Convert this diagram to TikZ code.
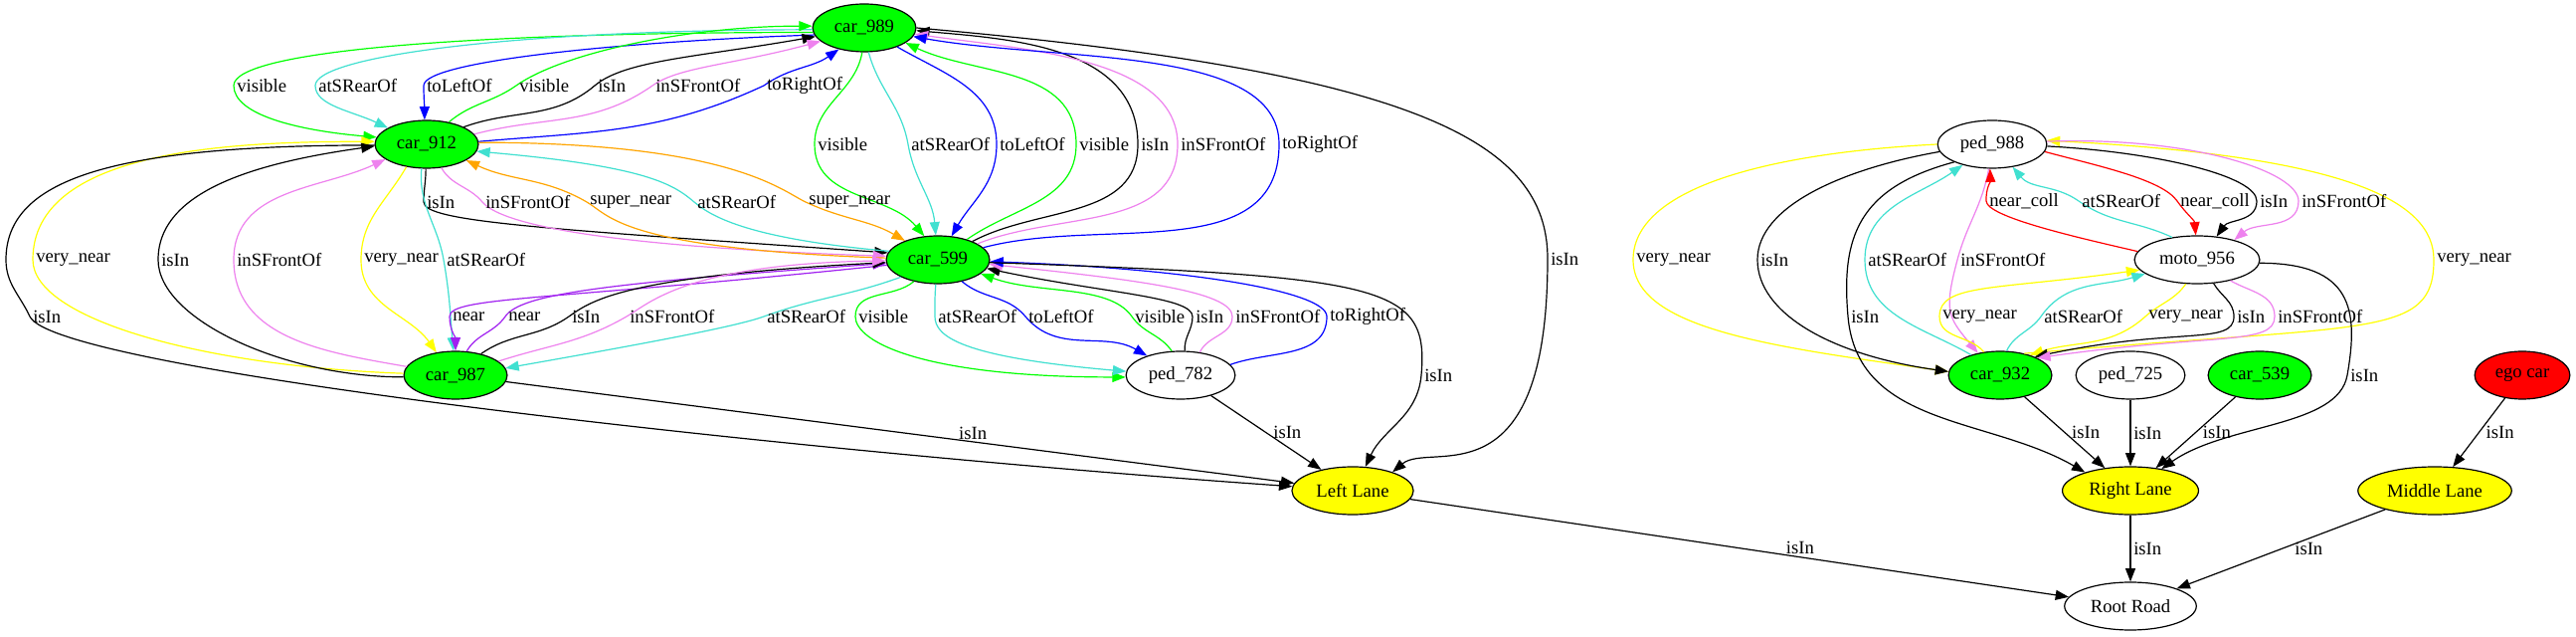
\documentclass[tikz,border=0pt]{standalone}
\usepackage{fontspec}
\setmainfont{Liberation Serif}
\usetikzlibrary{shapes.geometric, arrows.meta}
\definecolor{gvGreen}{RGB}{0, 255, 0}
\definecolor{gvTurq}{RGB}{64, 224, 208}
\definecolor{gvBlue}{RGB}{0, 0, 255}
\definecolor{gvViolet}{RGB}{238, 130, 238}
\definecolor{gvOrange}{RGB}{255, 165, 0}
\definecolor{gvYellow}{RGB}{255, 255, 0}
\definecolor{gvPurple}{RGB}{160, 32, 240}
\definecolor{gvRed}{RGB}{255, 0, 0}

\begin{document}
\begin{tikzpicture}[x=0.75pt, y=0.75pt,
    obj/.style={ellipse, draw, line width=0.9pt, inner xsep=5pt, inner ysep=1pt,
      minimum height=36pt, font=\fontsize{14}{16}\selectfont},
    carnode/.style={obj, fill=gvGreen},
    lanenode/.style={obj, fill=gvYellow},
    egonode/.style={obj, fill=gvRed},
    rel/.style={line width=0.9pt, -{Triangle[length=10pt, width=7.5pt]}},
    rvis/.style={rel, color=gvGreen},
    rrear/.style={rel, color=gvTurq},
    rside/.style={rel, color=gvBlue},
    rfront/.style={rel, color=gvViolet},
    risin/.style={rel, color=black},
    rsnear/.style={rel, color=gvOrange},
    rvnear/.style={rel, color=gvYellow},
    rnear/.style={rel, color=gvPurple},
    rcoll/.style={rel, color=gvRed},
    lbl/.style={anchor=west, inner sep=2pt, text=black, font=\fontsize{14}{16}\selectfont}]
  \path[use as bounding box, fill=white] (0,0) rectangle (2590,639);

  % left scene
  \node[carnode] (c989) at (869,611) {car\_989};
  \node[carnode] (c912) at (429,494) {car\_912};
  \node[carnode] (c599) at (943,378) {car\_599};
  \node[carnode] (c987) at (458,262) {car\_987};
  \node[obj] (p782) at (1187,262) {ped\_782};
  \node[lanenode] (ll) at (1360,146) {Left Lane};
  % right scene
  \node[obj] (p988) at (2003,494) {ped\_988};
  \node[obj] (m956) at (2209,378) {moto\_956};
  \node[carnode] (c932) at (2011,262) {car\_932};
  \node[obj] (p725) at (2142,262) {ped\_725};
  \node[carnode] (c539) at (2272,262) {car\_539};
  \node[egonode] (ego) at (2536,262) {ego car};
  \node[lanenode] (rl) at (2142,146) {Right Lane};
  \node[lanenode] (ml) at (2448,146) {Middle Lane};
  \node[obj] (rr) at (2142,30) {Root Road};

  % car_989 -> car_912 (loops over the top)
  \draw[rvis] (c989.185) to[out=180,in=90,out distance=262pt,in distance=26pt] (235,553) node[lbl]{visible}
    to[out=-90,in=175,out distance=22pt,in distance=60pt] (c912.172);
  \draw[rrear] (c989.182) to[out=180,in=90,out distance=225pt,in distance=22pt] (317,553) node[lbl]{atSRearOf}
    to[out=-90,in=155,out distance=15pt,in distance=30pt] (c912.157);
  \draw[rside] (c989.188) to[out=182,in=90,out distance=150pt,in distance=18pt] (426,553) node[lbl]{toLeftOf}
    to[out=-90,in=90] (c912.95);
  % car_912 -> car_989
  \draw[rvis] (c912.45) to[out=40,in=215] (519,553) node[lbl]{visible}
    to[out=35,in=180,out distance=45pt,in distance=90pt] (c989.178);
  \draw[risin] (c912.25) to[out=20,in=220] (598,553) node[lbl]{isIn}
    to[out=40,in=190,out distance=30pt,in distance=90pt] (c989.190);
  \draw[rfront] (c912.12) to[out=15,in=215] (656,553) node[lbl]{inSFrontOf}
    to[out=35,in=195,out distance=25pt,in distance=70pt] (c989.197);
  \draw[rside] (c912.3) to[out=5,in=205] (768,553) node[lbl]{toRightOf}
    to[out=35,in=215] (c989.220);

  % car_989 <-> car_599
  \draw[rvis] (c989.265) to[out=-100,in=90] (819,494) node[lbl]{visible} to[out=-90,in=130] (c599.120);
  \draw[rrear] (c989.280) to[out=-75,in=100] (913,494) node[lbl]{atSRearOf} to[out=-80,in=95] (c599.95);
  \draw[rside] (c989.-30) to[out=-30,in=90] (1002,494) node[lbl]{toLeftOf} to[out=-90,in=60] (c599.60);
  \draw[rvis] (c599.35) to[out=35,in=-90] (1082,494) node[lbl]{visible} to[out=90,in=-25] (c989.-20);
  \draw[risin] (c599.28) to[out=28,in=-90] (1144,494) node[lbl]{isIn} to[out=90,in=-5] (c989.-3);
  \draw[rfront] (c599.22) to[out=22,in=-90] (1184,494) node[lbl]{inSFrontOf}
    to[out=90,in=-8,out distance=65pt] (c989.-7);
  \draw[rside] (c599.15) to[out=15,in=-90] (1286,494) node[lbl]{toRightOf}
    to[out=90,in=-10,out distance=75pt] (c989.-10);
  \draw[risin] (c989.0) to[out=-5,in=90,out distance=375pt,in distance=90pt] (1556,379) node[lbl]{isIn}
    to[out=-90,in=40,out distance=187pt,in distance=37pt] (ll.25);

  % car_912 <-> car_599
  \draw[risin] (c912.268) to[out=-90,in=90] (426,436) node[lbl]{isIn}
    to[out=-90,in=176,out distance=15pt,in distance=260pt] (c599.172);
  \draw[rfront] (c912.-58) to[out=-60,in=130] (485,436) node[lbl]{inSFrontOf}
    to[out=-50,in=178,out distance=20pt,in distance=225pt] (c599.176);
  \draw[rsnear] (c599.178) to[out=178,in=-30,out distance=200pt,in distance=20pt] (590,436) node[lbl]{super\_near}
    to[out=150,in=-25] (c912.-22);
  \draw[rrear] (c599.170) to[out=175,in=-40,out distance=110pt,in distance=15pt] (698,436) node[lbl]{atSRearOf}
    to[out=140,in=-5,out distance=20pt,in distance=130pt] (c912.-8);
  \draw[rsnear] (c912.2) to[out=0,in=155,out distance=190pt,in distance=20pt] (810,436) node[lbl]{super\_near}
    to[out=-25,in=150] (c599.150);

  % car_912 <-> car_987, isIn round the left
  \draw[rvnear] (c987.178) to[out=178,in=-90,out distance=150pt,in distance=45pt] (33,378) node[lbl]{very\_near}
    to[out=90,in=180,out distance=82pt,in distance=112pt] (c912.177);
  \draw[risin] (c912.181) to[out=180,in=90,out distance=200pt,in distance=60pt] (6,378)
    to[out=-90,in=115] (30,321) node[lbl]{isIn}
    to[out=-65,in=176,out distance=45pt,in distance=375pt] (ll.176);
  \draw[risin] (c987.182) to[out=180,in=-90,out distance=90pt,in distance=45pt] (159,378) node[lbl]{isIn}
    to[out=90,in=188,out distance=52pt,in distance=90pt] (c912.182);
  \draw[rfront] (c987.170) to[out=170,in=-90] (235,378) node[lbl]{inSFrontOf} to[out=90,in=205] (c912.200);
  \draw[rvnear] (c912.228) to[out=-120,in=90] (363,378) node[lbl]{very\_near} to[out=-90,in=125] (c987.130);
  \draw[rrear] (c912.258) to[out=-95,in=100] (446,378) node[lbl]{atSRearOf} to[out=-80,in=95] (c987.95);

  % car_987 <-> car_599
  \draw[rnear] (c599.186) to[out=186,in=90,out distance=255pt,in distance=15pt] (452,321) node[lbl]{near}
    to[out=-90,in=90] (c987.90);
  \draw[rnear] (c987.65) to[out=60,in=235] (508,321) node[lbl]{near}
    to[out=55,in=184,out distance=20pt,in distance=220pt] (c599.184);
  \draw[risin] (c987.40) to[out=35,in=215] (572,321) node[lbl]{isIn}
    to[out=35,in=183,out distance=20pt,in distance=200pt] (c599.183);
  \draw[rfront] (c987.18) to[out=18,in=210] (630,321) node[lbl]{inSFrontOf}
    to[out=30,in=181,out distance=20pt,in distance=150pt] (c599.181);
  \draw[rrear] (c599.205) to[out=200,in=20] (768,321) node[lbl]{atSRearOf}
    to[out=200,in=10,out distance=20pt,in distance=120pt] (c987.8);

  % car_599 <-> ped_782
  \draw[rvis] (c599.222) to[out=220,in=90] (860,321) node[lbl]{visible}
    to[out=-90,in=180,out distance=20pt,in distance=150pt] (p782.182);
  \draw[rrear] (c599.265) to[out=-95,in=90] (940,321) node[lbl]{atSRearOf}
    to[out=-90,in=175,out distance=15pt,in distance=125pt] (p782.176);
  \draw[rside] (c599.-42) to[out=-40,in=130] (1031,321) node[lbl]{toLeftOf} to[out=-50,in=150] (p782.150);
  \draw[rvis] (p782.110) to[out=125,in=-55] (1138,321) node[lbl]{visible}
    to[out=125,in=-20,out distance=30pt] (c599.-18);
  \draw[risin] (p782.80) to[out=95,in=-90] (1199,321) node[lbl]{isIn}
    to[out=90,in=-12,out distance=15pt,in distance=90pt] (c599.-10);
  \draw[rfront] (p782.50) to[out=65,in=-90] (1239,321) node[lbl]{inSFrontOf}
    to[out=90,in=-6,out distance=19pt,in distance=110pt] (c599.-5);
  \draw[rside] (p782.12) to[out=20,in=-90] (1334,321) node[lbl]{toRightOf}
    to[out=90,in=-2,out distance=19pt,in distance=150pt] (c599.-2);
  \draw[risin] (c599.-3) to[out=-2,in=85,out distance=300pt,in distance=68pt] (1429,262) node[lbl]{isIn}
    to[out=-95,in=65] (ll.62);

  % into the lanes
  \draw[risin] (p782) -- node[lbl, xshift=3pt]{isIn} (ll);
  \draw[risin] (c987) -- node[lbl, pos=0.574, anchor=south west, inner sep=0pt]{isIn} (ll);
  \draw[risin] (ll) -- node[lbl, pos=0.57, anchor=south west, inner sep=0pt]{isIn} (rr);

  % ped_988 <-> car_932
  \draw[rvnear] (p988.180) to[out=183,in=90,out distance=135pt,in distance=52pt] (1642,378) node[lbl]{very\_near}
    to[out=-90,in=172,out distance=52pt,in distance=135pt] (c932.176);
  \draw[risin] (p988.188) to[out=190,in=90,out distance=75pt,in distance=40pt] (1767,378) node[lbl]{isIn}
    to[out=-90,in=172,out distance=40pt,in distance=90pt] (c932.176);
  \draw[risin] (p988.205) to[out=195,in=95,out distance=75pt,in distance=60pt] (1858,321) node[lbl]{isIn}
    to[out=-85,in=150] (rl.158);
  \draw[rrear] (c932.145) to[out=150,in=-90] (1875,378) node[lbl]{atSRearOf} to[out=90,in=215] (p988.215);
  \draw[rfront] (p988.262) to[out=-100,in=75] (1968,378) node[lbl]{inSFrontOf}
    to[out=-105,in=130,out distance=40pt,in distance=35pt] (c932.135);
  \draw[rvnear] (c932.42) to[out=5,in=-90,out distance=262pt,in distance=60pt] (2447,378) node[lbl]{very\_near}
    to[out=90,in=-3,out distance=45pt,in distance=225pt] (p988.4);

  % ped_988 <-> moto_956
  \draw[rcoll] (m956.172) to[out=167,in=-88,in distance=12pt] (1997,437) node[lbl]{near\_coll}
    to[out=92,in=-88] (p988.265);
  \draw[rrear] (m956.138) to[out=155,in=-35] (2090,437) node[lbl]{atSRearOf} to[out=145,in=-50] (p988.-48);
  \draw[rcoll] (p988.-8) to[out=-15,in=125,in distance=20pt] (2189,437) node[lbl]{near\_coll}
    to[out=-55,in=95] (m956.93);
  \draw[risin] (p988.-2) to[out=-3,in=90,out distance=82pt,in distance=19pt] (2269,437) node[lbl]{isIn}
    to[out=-90,in=55] (m956.50);
  \draw[rfront] (p988.3) to[out=2,in=90,out distance=110pt,in distance=22pt] (2311,437) node[lbl]{inSFrontOf}
    to[out=-90,in=40] (m956.28);

  % moto_956 <-> car_932
  \draw[rvnear] (c932.125) to[out=130,in=-90] (1950,321) node[lbl]{very\_near}
    to[out=90,in=188,out distance=25pt,in distance=110pt] (m956.190);
  \draw[rrear] (c932.75) to[out=65,in=-125] (2052,321) node[lbl]{atSRearOf} to[out=55,in=197] (m956.195);
  \draw[rvnear] (m956.245) to[out=-125,in=42] (2157,321) node[lbl]{very\_near} to[out=-138,in=18] (c932.34);
  \draw[risin] (m956.-55) to[out=-60,in=90] (2246,321) node[lbl]{isIn}
    to[out=-90,in=12,out distance=22pt,in distance=110pt] (c932.28);
  \draw[rfront] (m956.-32) to[out=-30,in=90] (2287,321) node[lbl]{inSFrontOf}
    to[out=-90,in=8,out distance=22pt,in distance=135pt] (c932.25);
  \draw[risin] (m956.-3) to[out=0,in=80,out distance=70pt,in distance=50pt] (2360,262) node[lbl]{isIn}
    to[out=-100,in=35,out distance=40pt,in distance=60pt] (rl.35);

  % lanes and road
  \draw[risin] (c932) -- node[lbl, xshift=3pt]{isIn} (rl);
  \draw[risin] (p725) -- node[lbl]{isIn} (rl);
  \draw[risin] (c539) -- node[lbl, xshift=3pt]{isIn} (rl);
  \draw[risin] (ego) -- node[lbl, xshift=3pt]{isIn} (ml);
  \draw[risin] (rl) -- node[lbl]{isIn} (rr);
  \draw[risin] (ml) -- node[lbl, xshift=8pt]{isIn} (rr);
\end{tikzpicture}
\end{document}
